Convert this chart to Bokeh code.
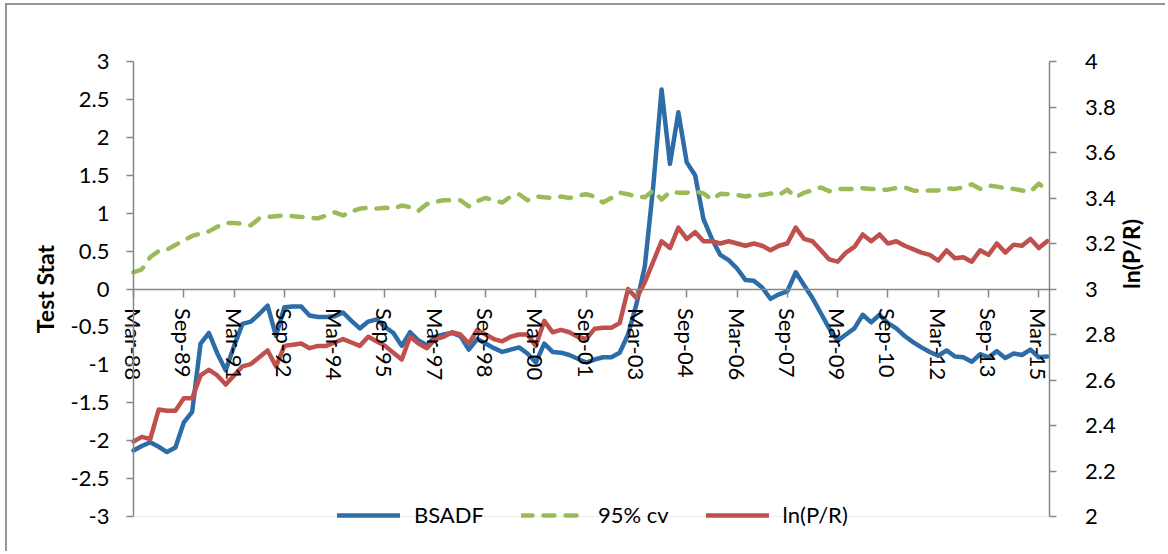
import math
from bokeh.plotting import figure
from bokeh.models import (Range1d, LinearAxis, FixedTicker, NumeralTickFormatter,
                          Legend, LegendItem, ColumnDataSource)
from bokeh.embed import file_html
from bokeh.resources import INLINE

# ---------------- data ----------------
months = ["Mar", "Jun", "Sep", "Dec"]
n_q = 110
quarters = [f"{months[k % 4]}-{(88 + k // 4) % 100:02d}" for k in range(n_q)]
idx = list(range(n_q))

bsadf = [
    -2.13, -2.07, -2.02, -2.08, -2.15, -2.09, -1.76, -1.62, -0.72, -0.58,
    -0.85, -1.07, -0.75, -0.46, -0.43, -0.33, -0.22, -0.62, -0.24, -0.23,
    -0.23, -0.35, -0.37, -0.37, -0.36, -0.31, -0.42, -0.52, -0.43, -0.40,
    -0.50, -0.58, -0.75, -0.57, -0.68, -0.74, -0.63, -0.60, -0.58, -0.62,
    -0.80, -0.66, -0.72, -0.78, -0.83, -0.80, -0.77, -0.85, -0.97, -0.72,
    -0.83, -0.84, -0.87, -0.92, -0.97, -0.93, -0.90, -0.90, -0.84, -0.60,
    -0.20, 0.30, 1.35, 2.63, 1.65, 2.33, 1.67, 1.50, 0.92, 0.66,
    0.45, 0.38, 0.27, 0.12, 0.11, 0.02, -0.13, -0.07, -0.03, 0.22,
    0.05, -0.12, -0.32, -0.52, -0.68, -0.60, -0.52, -0.34, -0.44, -0.34,
    -0.45, -0.52, -0.62, -0.70, -0.77, -0.83, -0.88, -0.81, -0.89, -0.90,
    -0.96, -0.86, -0.90, -0.82, -0.91, -0.85, -0.87, -0.80, -0.90, -0.89,
]

cv95 = [
    0.22, 0.26, 0.42, 0.50, 0.52, 0.58, 0.64, 0.70, 0.73, 0.76,
    0.82, 0.87, 0.87, 0.86, 0.84, 0.93, 0.95, 0.96, 0.97, 0.96,
    0.95, 0.94, 0.93, 0.97, 1.01, 0.97, 1.02, 1.06, 1.07, 1.06,
    1.07, 1.06, 1.10, 1.08, 1.03, 1.12, 1.15, 1.17, 1.17, 1.17,
    1.09, 1.16, 1.20, 1.17, 1.14, 1.22, 1.25, 1.17, 1.22, 1.21,
    1.20, 1.22, 1.20, 1.23, 1.25, 1.22, 1.14, 1.20, 1.27, 1.25,
    1.22, 1.21, 1.30, 1.18, 1.28, 1.27, 1.27, 1.29, 1.26, 1.18,
    1.255, 1.25, 1.24, 1.22, 1.24, 1.24, 1.26, 1.24, 1.31, 1.21,
    1.27, 1.30, 1.34, 1.29, 1.32, 1.32, 1.32, 1.33, 1.32, 1.31,
    1.31, 1.33, 1.34, 1.30, 1.29, 1.30, 1.30, 1.33, 1.32, 1.34,
    1.38, 1.32, 1.365, 1.35, 1.33, 1.32, 1.30, 1.28, 1.39, 1.30,
]

ln_pr = [
    2.33, 2.35, 2.34, 2.47, 2.465, 2.465, 2.52, 2.52, 2.62, 2.645,
    2.62, 2.58, 2.62, 2.66, 2.67, 2.70, 2.73, 2.66, 2.75, 2.755,
    2.76, 2.74, 2.75, 2.75, 2.765, 2.78, 2.765, 2.75, 2.79, 2.77,
    2.75, 2.72, 2.69, 2.79, 2.76, 2.74, 2.78, 2.79, 2.81, 2.80,
    2.76, 2.82, 2.80, 2.78, 2.77, 2.79, 2.80, 2.80, 2.75, 2.86,
    2.81, 2.82, 2.81, 2.79, 2.78, 2.825, 2.83, 2.83, 2.85, 3.00,
    2.96, 3.03, 3.12, 3.21, 3.18, 3.27, 3.22, 3.25, 3.21, 3.21,
    3.20, 3.21, 3.20, 3.19, 3.20, 3.19, 3.17, 3.19, 3.20, 3.27,
    3.22, 3.21, 3.17, 3.13, 3.12, 3.16, 3.185, 3.24, 3.21, 3.24,
    3.20, 3.21, 3.19, 3.175, 3.16, 3.15, 3.125, 3.17, 3.135, 3.14,
    3.12, 3.17, 3.15, 3.20, 3.16, 3.195, 3.19, 3.22, 3.18, 3.21,
]

label_every = 6
tick_idx = idx[::label_every]
tick_labels = quarters[::label_every]
left_ticks = [-3, -2.5, -2, -1.5, -1, -0.5, 0, 0.5, 1, 1.5, 2, 2.5, 3]
right_ticks = [2, 2.2, 2.4, 2.6, 2.8, 3, 3.2, 3.4, 3.6, 3.8, 4]

# ---------------- layout geometry (canvas pixels) ----------------
W, H = 1160, 548
X0_PX = 126.0          # canvas x of the first quarter
PX_PER_Q = 8.3824      # pixels per quarter
Y0_PX = 283.5          # canvas y of the zero line
PX_PER_UNIT_L = 75.833
PX_PER_UNIT_R = 227.5
X_AXIS_END = 109.22    # where the secondary axis sits (in quarters)

x_lo = -X0_PX / PX_PER_Q
x_hi = (W - X0_PX) / PX_PER_Q
yl_lo = -(H - Y0_PX) / PX_PER_UNIT_L
yl_hi = Y0_PX / PX_PER_UNIT_L
yr_lo = 3 - (H - Y0_PX) / PX_PER_UNIT_R
yr_hi = 3 + Y0_PX / PX_PER_UNIT_R

# ---------------- styling ----------------
FONT = "Lato"
AX_COLOR = "#868686"
BLUE = "#2C6DA8"
GREEN = "#9BBB59"
RED = "#C0504D"

src = ColumnDataSource(dict(x=idx, q=quarters, bsadf=bsadf, cv=cv95, lnpr=ln_pr))

p = figure(width=W, height=H, output_backend="svg", toolbar_location=None,
           x_range=Range1d(x_lo, x_hi), y_range=Range1d(yl_lo, yl_hi),
           x_axis_location=None, y_axis_location=None,
           min_border_left=0, min_border_right=0,
           min_border_top=0, min_border_bottom=0,
           background_fill_color="white", border_fill_color="white",
           outline_line_color=None)
p.grid.visible = False
p.styles = {"margin-left": "5px", "margin-top": "3px",
            "border-top": "2px solid #959595", "border-left": "2px solid #959595"}
p.extra_y_ranges = {"r": Range1d(yr_lo, yr_hi)}

# faint plot-area bottom edge
p.segment(x0=[0], y0=[left_ticks[0]], x1=[X_AXIS_END], y1=[left_ticks[0]],
          line_color="#ececec", line_width=1)


def style_axis(ax, tick_out=7):
    ax.axis_line_color = AX_COLOR
    ax.axis_line_width = 1.5
    ax.major_tick_line_color = AX_COLOR
    ax.major_tick_line_width = 1.5
    ax.major_tick_in = 0
    ax.major_tick_out = tick_out
    ax.minor_tick_line_color = None
    ax.major_label_text_font = FONT
    ax.major_label_text_font_size = "22px"
    ax.major_label_text_color = "black"
    ax.axis_label_text_font = FONT
    ax.axis_label_text_font_size = "23px"
    ax.axis_label_text_font_style = "bold"
    ax.axis_label_text_color = "black"


ly = LinearAxis(fixed_location=0, ticker=FixedTicker(ticks=left_ticks),
                formatter=NumeralTickFormatter(format="0.[0]"),
                axis_label="Test Stat", bounds=(left_ticks[0], left_ticks[-1]))
style_axis(ly)
ly.major_label_standoff = 17
ly.axis_label_standoff = 9
p.add_layout(ly, "left")

ry = LinearAxis(y_range_name="r", fixed_location=X_AXIS_END,
                ticker=FixedTicker(ticks=right_ticks),
                formatter=NumeralTickFormatter(format="0.[0]"),
                axis_label="ln(P/R)", bounds=(right_ticks[0], right_ticks[-1]))
style_axis(ry)
ry.major_label_standoff = 29
ry.axis_label_standoff = 12
try:
    ry.axis_label_orientation = math.pi / 2
except Exception:
    pass
p.add_layout(ry, "right")

xa = LinearAxis(fixed_location=0, ticker=FixedTicker(ticks=tick_idx),
                major_label_overrides={t: l for t, l in zip(tick_idx, tick_labels)},
                bounds=(0, X_AXIS_END))
style_axis(xa, tick_out=8)
xa.major_label_orientation = -math.pi / 2
xa.major_label_standoff = 11
p.add_layout(xa, "below")

# ---------------- series ----------------
r1 = p.line("x", "bsadf", source=src, line_color=BLUE, line_width=4.5,
            line_join="round", line_cap="round")
r2 = p.line("x", "cv", source=src, line_color=GREEN, line_width=4.5,
            line_dash="11 11", line_cap="round", line_join="round")
r3 = p.line("x", "lnpr", source=src, y_range_name="r", line_color=RED,
            line_width=4.5, line_join="round", line_cap="round")

legend = Legend(items=[LegendItem(label="BSADF", renderers=[r1]),
                       LegendItem(label="95% cv", renderers=[r2]),
                       LegendItem(label="ln(P/R)", renderers=[r3])],
                orientation="horizontal", location=(330, 25),
                margin=0, padding=0, spacing=37,
                glyph_width=63, glyph_height=24, label_height=24,
                label_standoff=14,
                label_text_font=FONT, label_text_font_size="22px",
                label_text_color="black",
                border_line_color=None, background_fill_alpha=0)
p.add_layout(legend)

open("out.html", "w").write(file_html(p, INLINE))
